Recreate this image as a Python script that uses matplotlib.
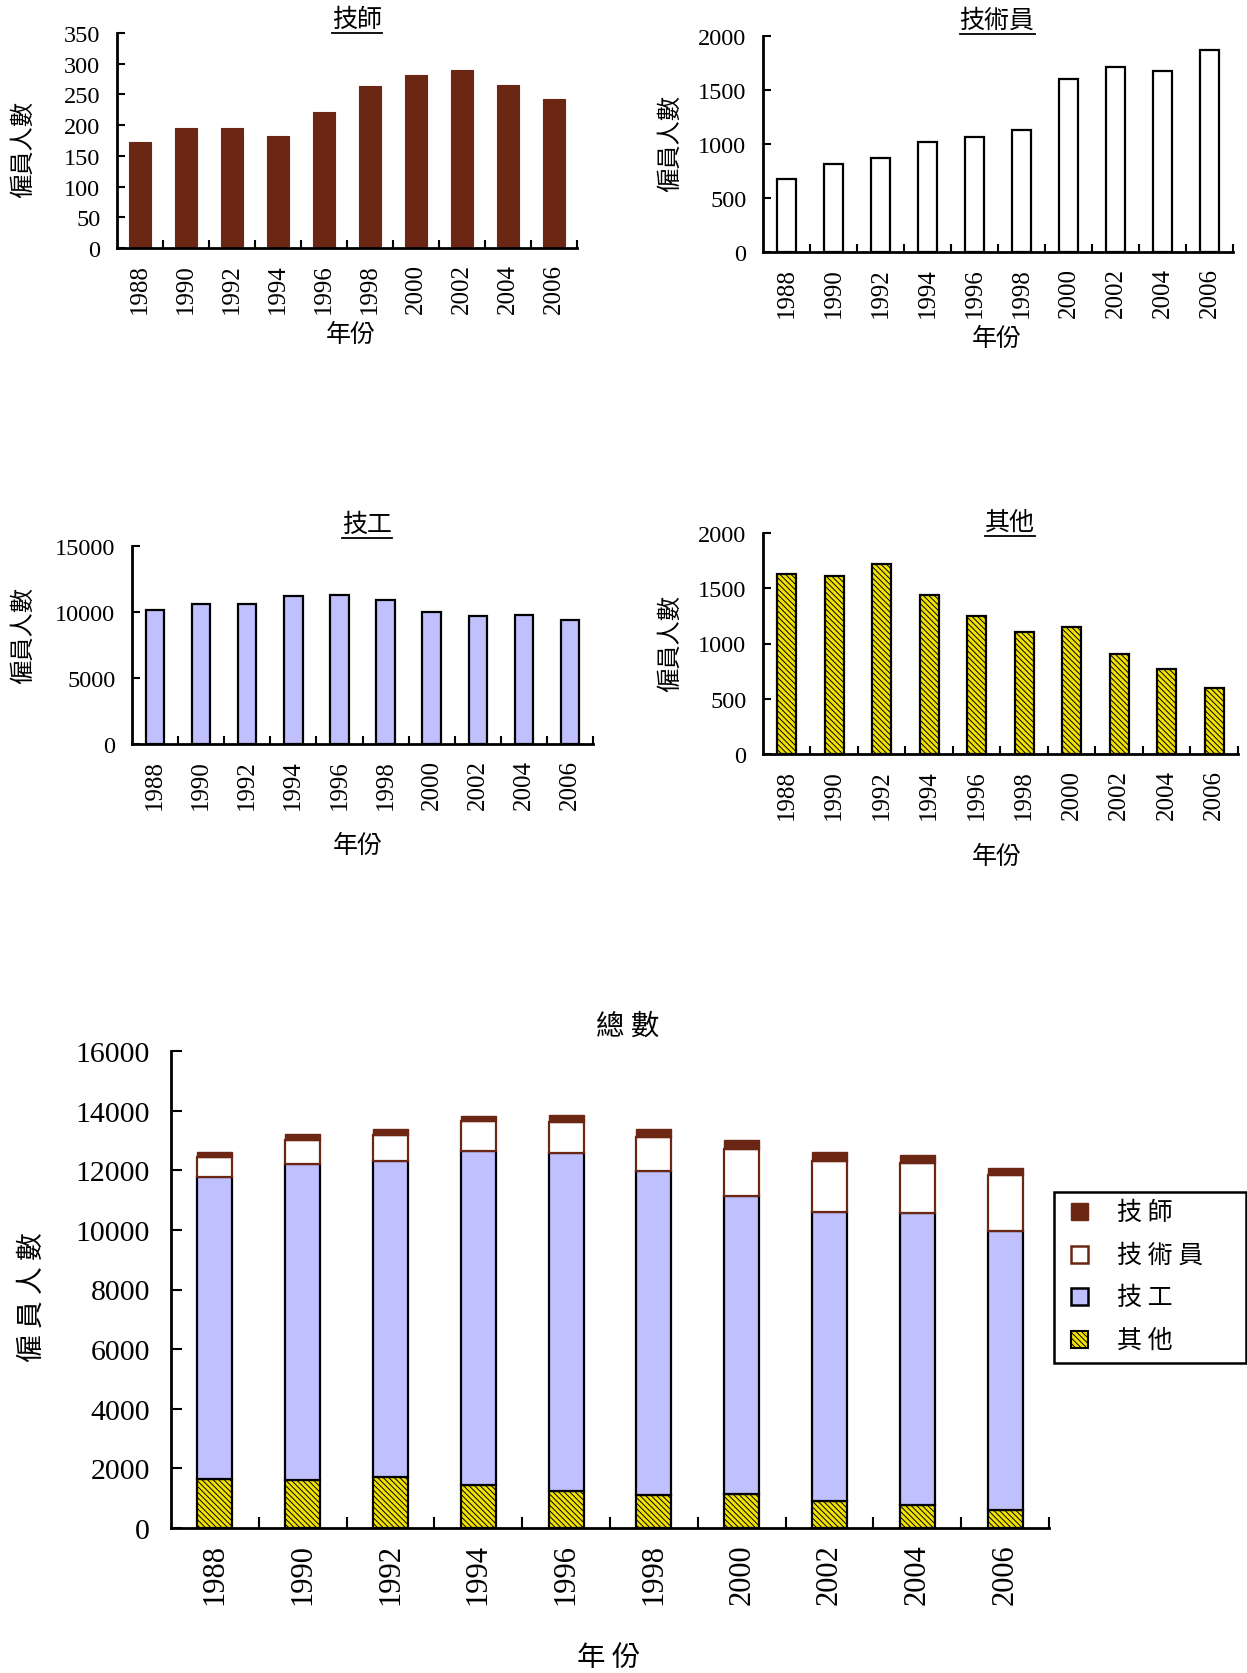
import numpy as np
import matplotlib
matplotlib.use("Agg")
import matplotlib.pyplot as plt
import matplotlib.patches as mpatches
from matplotlib.lines import Line2D

plt.rcParams['font.family'] = ['Liberation Serif', 'Noto Sans CJK TC']
plt.rcParams['hatch.linewidth'] = 0.7
plt.rcParams['axes.unicode_minus'] = False

years = ['1988', '1990', '1992', '1994', '1996', '1998', '2000', '2002', '2004', '2006']
technologists = [173, 195, 195, 183, 221, 264, 282, 289, 266, 242]          # 技師
technicians = [674, 815, 871, 1015, 1062, 1132, 1600, 1711, 1674, 1871]     # 技術員
craftsmen = [10150, 10600, 10600, 11200, 11325, 10875, 9975, 9700, 9800, 9375]  # 技工
others = [1630, 1612, 1720, 1438, 1245, 1101, 1152, 902, 773, 601]          # 其他

BROWN = '#6b2614'
LAVENDER = '#c0c0ff'
YELLOW = '#f2e200'
HATCH = '\\\\\\\\\\\\'
CJK = ['Noto Sans CJK TC', 'Liberation Serif']

W, H = 1247, 1674
fig = plt.figure(figsize=(W / 100, H / 100), dpi=100)


def add_ax(l, r, t, b):
    return fig.add_axes([l / W, 1 - b / H, (r - l) / W, (b - t) / H])


def style_axes(ax, ymax, ystep, tick_fs, year_fs, tlen, ypad):
    x = np.arange(len(years))
    ax.set_xlim(-0.5, len(years) - 0.5)
    ax.set_ylim(0, ymax)
    ax.set_yticks(np.arange(0, ymax + 1, ystep))
    ax.set_xticks(x)
    ax.set_xticklabels(years, rotation=90, fontsize=year_fs)
    ax.set_xticks(np.arange(0.5, len(years)), minor=True)
    ax.tick_params(axis='x', which='major', length=0, pad=11)
    ax.tick_params(axis='x', which='minor', direction='in', length=tlen, width=1.5)
    ax.tick_params(axis='y', direction='in', length=tlen, width=1.5, labelsize=tick_fs, pad=ypad)
    for s in ('top', 'right'):
        ax.spines[s].set_visible(False)
    for s in ('left', 'bottom'):
        ax.spines[s].set_linewidth(2)


def fig_text(x, y, s, ha='center', **kw):
    return fig.text(x / W, 1 - y / H, s, ha=ha, va='center', family=CJK, **kw)


x = np.arange(len(years))
titles = []

# 技師
ax1 = add_ax(117, 577, 34, 249)
ax1.bar(x, technologists, width=0.46, color=BROWN, edgecolor=BROWN, linewidth=0.8)
style_axes(ax1, 350, 50, 17.5, 18, 6, 12)
titles.append(fig_text(357, 20, '技師', fontsize=18))
fig_text(23, 150, '僱員人數', fontsize=17.5, rotation=90)
fig_text(351, 335, '年份', fontsize=18)

# 技術員
ax2 = add_ax(763, 1233, 37, 253)
ax2.bar(x, technicians, width=0.4, color='white', edgecolor='black', linewidth=1.6)
style_axes(ax2, 2000, 500, 17.5, 18, 6, 12)
titles.append(fig_text(997, 21, '技術員', fontsize=18))
fig_text(670, 144, '僱員人數', fontsize=17.5, rotation=90)
fig_text(997, 339, '年份', fontsize=18)

# 技工
ax3 = add_ax(132, 593, 547, 745)
ax3.bar(x, craftsmen, width=0.4, color=LAVENDER, edgecolor='black', linewidth=1.6)
style_axes(ax3, 15000, 5000, 17.5, 18, 6, 12)
titles.append(fig_text(367, 525, '技工', fontsize=18))
fig_text(23, 635, '僱員人數', fontsize=17.5, rotation=90)
fig_text(358, 846, '年份', fontsize=18)

# 其他
ax4 = add_ax(763, 1238, 534, 755)
ax4.bar(x, others, width=0.4, color=YELLOW, edgecolor='black', linewidth=1.6, hatch=HATCH)
style_axes(ax4, 2000, 500, 17.5, 18, 6, 12)
titles.append(fig_text(1010, 523, '其他', fontsize=18))
fig_text(670, 644, '僱員人數', fontsize=17.5, rotation=90)
fig_text(997, 857, '年份', fontsize=18)

# 總數 (stacked)
ax5 = add_ax(171, 1049, 1052, 1529)
b1 = np.array(others)
b2 = b1 + np.array(craftsmen)
b3 = b2 + np.array(technicians)
ax5.bar(x, others, width=0.4, color=YELLOW, edgecolor='black', linewidth=1.6, hatch=HATCH)
ax5.bar(x, craftsmen, width=0.4, bottom=b1, color=LAVENDER, edgecolor='black', linewidth=1.6)
ax5.bar(x, technicians, width=0.4, bottom=b2, color='white', edgecolor=BROWN, linewidth=1.6)
ax5.bar(x, technologists, width=0.4, bottom=b3, color=BROWN, edgecolor=BROWN, linewidth=1.0)
style_axes(ax5, 16000, 2000, 21.5, 22, 8, 15)
fig_text(628, 1027, '總 數', fontsize=20.5)
fig_text(32, 1297, '僱 員 人 數', fontsize=20, rotation=90)
fig_text(609, 1658, '年 份', fontsize=20.5)

# legend box to the right of the stacked chart
fig.add_artist(mpatches.Rectangle((1054 / W, 1 - 1364 / H), (1246 - 1054) / W, (1364 - 1193) / H,
                                  transform=fig.transFigure, facecolor='white',
                                  edgecolor='black', linewidth=1.8))
legend_items = [
    ('技 師', dict(facecolor=BROWN, edgecolor=BROWN, linewidth=1.0)),
    ('技 術 員', dict(facecolor='white', edgecolor=BROWN, linewidth=1.8)),
    ('技 工', dict(facecolor=LAVENDER, edgecolor='black', linewidth=1.8)),
    ('其 他', dict(facecolor=YELLOW, edgecolor='black', linewidth=1.5, hatch=HATCH)),
]
row_y = [1213, 1256, 1298, 1341]
for (label, kw), ry in zip(legend_items, row_y):
    fig.add_artist(mpatches.Rectangle((1071 / W, 1 - (ry + 8) / H), 17 / W, 17 / H,
                                      transform=fig.transFigure, **kw))
    fig_text(1117, ry, label, ha='left', fontsize=18)

# underline the small panel titles
fig.canvas.draw()
renderer = fig.canvas.get_renderer()
for t in titles:
    bb = t.get_window_extent(renderer)
    y = bb.y0 - 1
    fig.add_artist(Line2D([bb.x0 / W, bb.x1 / W], [y / H, y / H], color='black', linewidth=1.3,
                          transform=fig.transFigure))

fig.savefig('out.png', dpi=100)
